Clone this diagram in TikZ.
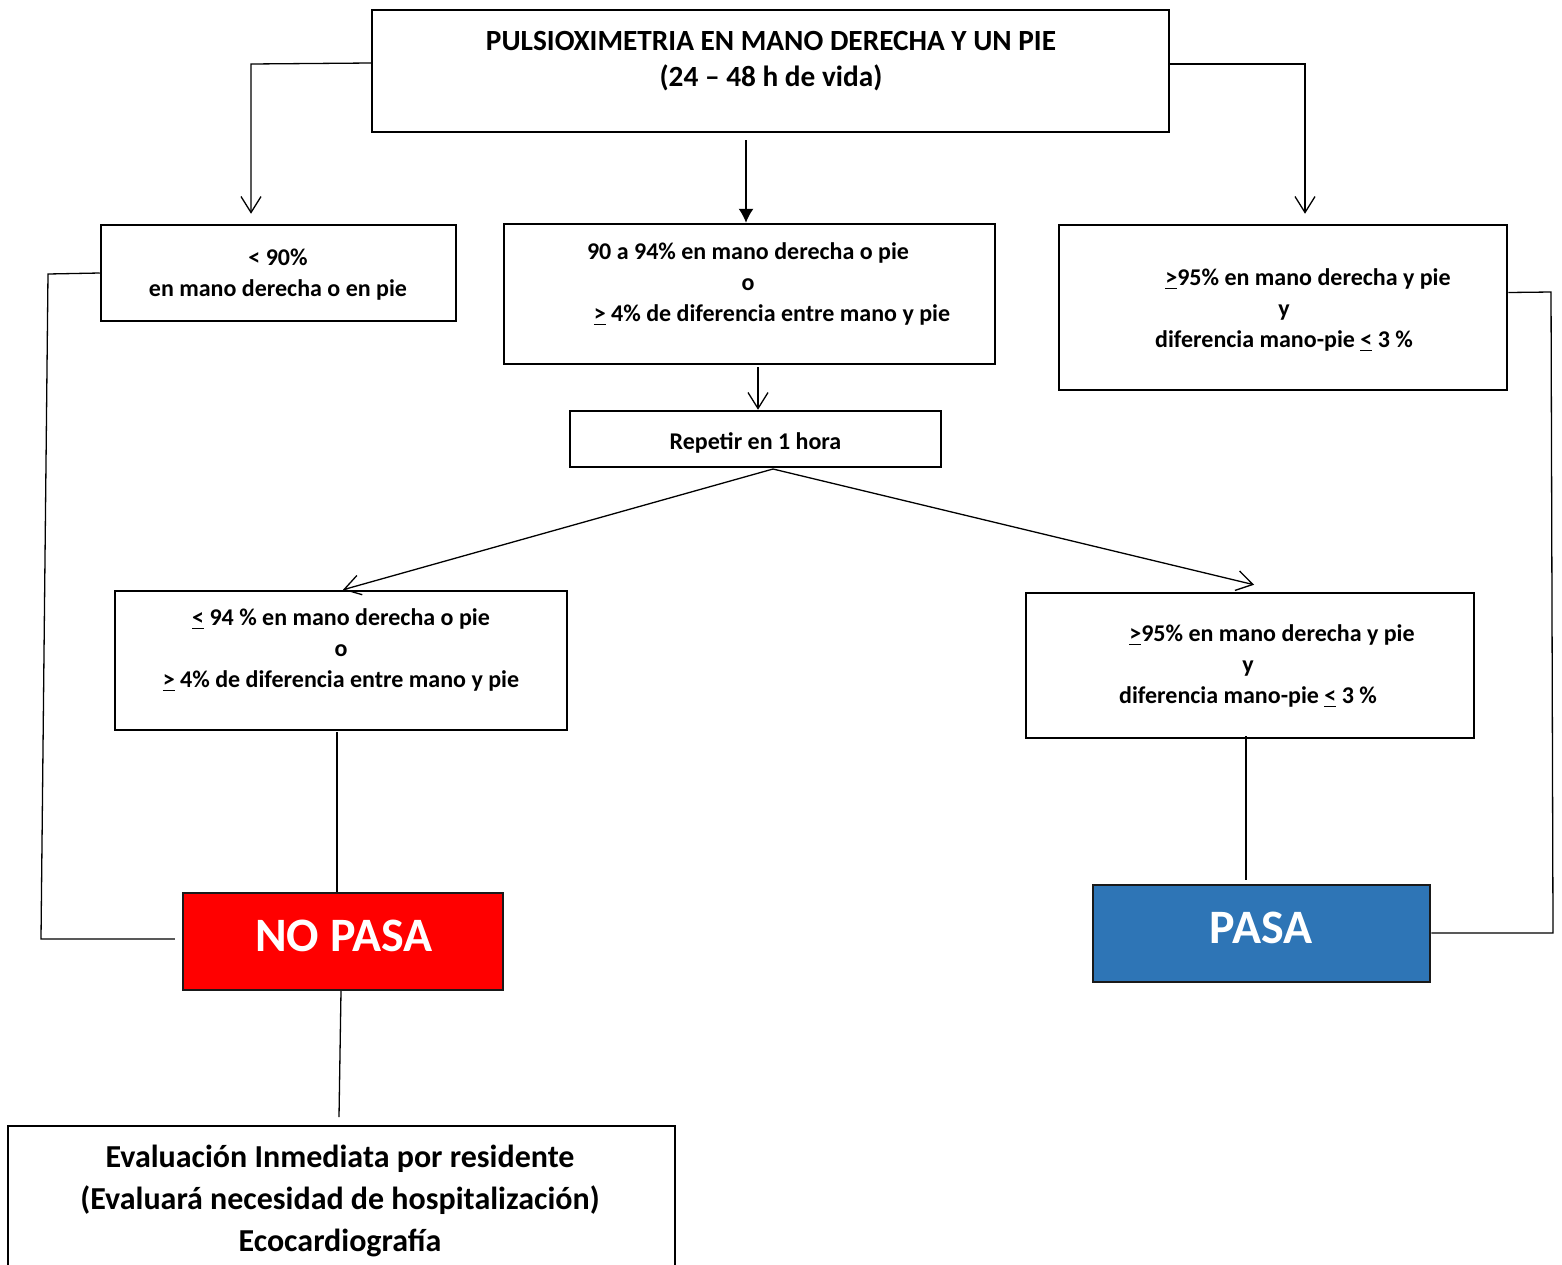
\documentclass[tikz,border=0pt]{standalone}
\usepackage{fontspec}
\setmainfont{Carlito}
\usetikzlibrary{arrows.meta}

\definecolor{nopasared}{RGB}{255,0,0}
\definecolor{pasablue}{RGB}{46,117,182}

\begin{document}
\begin{tikzpicture}[x=0.5pt,y=-0.5pt,line width=0.65pt,>={Straight Barb[length=8pt,width=10pt]}]
  \tikzstyle{box}=[rectangle,draw,line width=1.25pt,inner sep=0pt]
  \tikzstyle{txt}=[align=center,inner sep=0pt,font=\bfseries\fontsize{12}{15.5}\selectfont]
  \tikzstyle{result}=[box,draw=black!90,text=white,font=\bfseries\fontsize{24}{28}\selectfont]

  \useasboundingbox (0,0) rectangle (1562,1264);

  % top
  \node [box,minimum width=398.5pt,minimum height=61pt] (top) at (770.5,71) {};
  \node [txt,font=\bfseries\fontsize{14.65}{18}\selectfont] (top-t) at (771,61.5)
        {PULSIOXIMETRIA EN MANO DERECHA Y UN PIE\\(24 -- 48 h de vida)};

  % first level
  \node [box,minimum width=177.5pt,minimum height=48pt] (menos) at (278.5,273) {};
  \node [txt] (menos-t) at (278,274.5) {< 90\%\\en mano derecha o en pie};

  \node [box,minimum width=245.5pt,minimum height=70pt] (medio) at (749.5,294) {};
  \node [txt] (medio-t) at (748,284.5)
        {90 a 94\% en mano derecha o pie\\o\\\hspace*{24pt}\underline{>} 4\% de diferencia entre mano y pie};

  \node [box,minimum width=224pt,minimum height=82.5pt] (mas) at (1283,307.5) {};
  \node [txt] (mas-t) at (1284,310.5)
        {\hspace*{24pt}\underline{>}95\% en mano derecha y pie\\y\\diferencia mano-pie \underline{<} 3 \%};

  \node [box,minimum width=185.5pt,minimum height=28pt] (repetir) at (755.5,439) {};
  \node [txt] (repetir-t) at (755.5,443) {Repetir en 1 hora};

  % second level
  \node [box,minimum width=226pt,minimum height=69.5pt] (bajo) at (341,660.5) {};
  \node [txt] (bajo-t) at (341,650)
        {\underline{<} 94 \% en mano derecha o pie\\o\\\underline{>} 4\% de diferencia entre mano y pie};

  \node [box,minimum width=224pt,minimum height=72.5pt] (alto) at (1250,665.5) {};
  \node [txt] (alto-t) at (1248,666)
        {\hspace*{24pt}\underline{>}95\% en mano derecha y pie\\y\\diferencia mano-pie \underline{<} 3 \%};

  % results
  \node [result,fill=nopasared,minimum width=160pt,minimum height=48.5pt] (nopasa) at (343,941.5) {};
  \node [txt,text=white,font=\bfseries\fontsize{24}{28}\selectfont] (nopasa-t) at (344,936) {NO PASA};

  \node [result,fill=pasablue,minimum width=168.5pt,minimum height=48.5pt] (pasa) at (1261.5,933.5) {};
  \node [txt,text=white,font=\bfseries\fontsize{24}{28}\selectfont] (pasa-t) at (1261,928) {PASA};

  \node [box,minimum width=333.5pt,minimum height=80pt] (eval) at (341.5,1206) {};
  \node [txt,font=\bfseries\fontsize{16}{21}\selectfont] (eval-t) at (340,1200.5)
        {Evaluación Inmediata por residente\\(Evaluará necesidad de hospitalización)\\Ecocardiografía};

  % connectors
  \coordinate (codoA) at (251,64);
  \coordinate (iniB) at (746,140);
  \coordinate (codoC) at (1305,64);
  \coordinate (baseB) at (758,367);
  \coordinate (salida) at (773,469);
  \coordinate (baseD) at (337,732);
  \coordinate (baseE) at (1246,736);
  \coordinate (izq1) at (48,274);
  \coordinate (izq2) at (41,939);
  \coordinate (der1) at (1551,292);
  \coordinate (der2) at (1553,933);
  \coordinate (baseN) at (341,991);
  \coordinate (finN) at (339,1117);

  \draw [->,shorten >=5pt] ([yshift=4pt]top.west) -- (codoA) -- (codoA |- menos.north);
  \draw [-{Latex[length=7pt,width=7.5pt]}] (iniB) -- (iniB |- medio.north);
  \draw [->,shorten >=5pt] ([yshift=3.5pt]top.east) -- (codoC) -- (codoC |- mas.north);
  \draw [->] (baseB) -- (baseB |- repetir.north);
  \draw [->] (salida) -- ([xshift=1pt]bajo.north);
  \draw [->] (salida) -- ([xshift=2pt,yshift=3.5pt]alto.north);
  \draw (baseD) -- (baseD |- nopasa.north);
  \draw [shorten >=2pt] (baseE) -- (baseE |- pasa.north);
  \draw [shorten >=3.5pt] (menos.west) -- (izq1) -- (izq2) -- (izq2 -| nopasa.west);
  \draw ([yshift=7.5pt]mas.east) -- (der1) -- (der2) -- (der2 -| pasa.east);
  \draw (baseN) -- (finN);
\end{tikzpicture}
\end{document}
